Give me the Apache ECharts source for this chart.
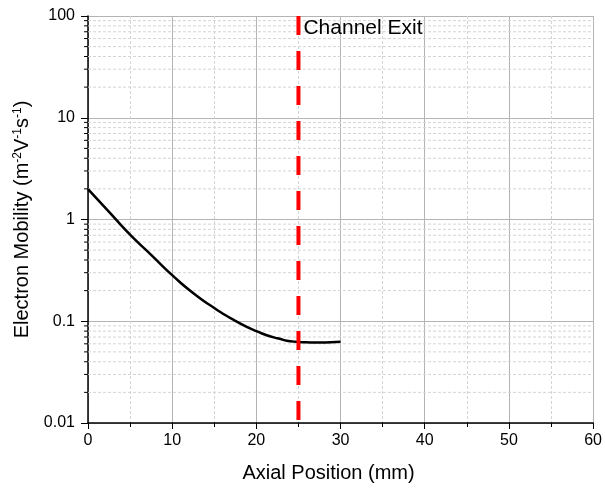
<!DOCTYPE html>
<html>
<head>
<meta charset="utf-8">
<script src="https://cdn.jsdelivr.net/npm/echarts@6/dist/echarts.min.js"></script>
<style>
  html, body { margin: 0; padding: 0; background: #fff; }
  #chart { width: 605px; height: 489px; }
</style>
</head>
<body>
<div id="chart"></div>
<script>
// axial position (mm) and electron mobility (m^2 V^-1 s^-1)
const axialPos = [0, 2.5, 5, 7.5, 10, 12.5, 15, 17.5, 20, 22.5, 25, 27.5, 30];
const mobility = [1.99, 1.19, 0.71, 0.45, 0.284, 0.189, 0.135, 0.101, 0.08, 0.068, 0.0627, 0.0619, 0.063];

// channel exit marker
const exitPos = 25;
const exitLabel = "Channel Exit";

// log axis ticks
const yTickLabels = ["0.01", "0.1", "1", "10", "100"];
const yMinorMult = [2, 3, 4, 5, 6, 7, 8, 9];
const yDecades = [0.01, 0.1, 1, 10];
const yMinorTicks = yDecades.flatMap((d) => yMinorMult.map((m) => +(d * m).toPrecision(3)));

const FONT = "'Liberation Sans', Arial, sans-serif";

const chart = echarts.init(document.getElementById("chart"));

chart.setOption({
  animation: false,
  grid: { left: 88, right: 11, top: 16, bottom: 66 },
  xAxis: {
    type: "value",
    min: 0,
    max: 60,
    interval: 10,
    name: "Axial Position (mm)",
    nameLocation: "middle",
    nameGap: 40,
    nameTextStyle: { fontFamily: FONT, fontSize: 20, color: "#000", padding: [0, 24, 0, 0] },
    axisLine: { onZero: false, lineStyle: { color: "#000", width: 1.5 } },
    axisTick: { length: 6, lineStyle: { color: "#000" } },
    minorTick: { show: true, splitNumber: 2, length: 4, lineStyle: { color: "#000" } },
    axisLabel: { fontFamily: FONT, fontSize: 16, color: "#000", margin: 10 },
    splitLine: { show: true, lineStyle: { color: "#b4b4b4", width: 1 } },
    minorSplitLine: { show: true, lineStyle: { color: "#d4d4d4", type: [3, 2] } },
  },
  yAxis: {
    type: "log",
    logBase: 10,
    min: 0.01,
    max: 100,
    name: "{a|Electron Mobility (m}{s|-2}{a|V}{s|-1}{a|s}{s|-1}{a|)}",
    nameLocation: "middle",
    nameGap: 54,
    nameRotate: 90,
    nameTextStyle: {
      fontFamily: FONT,
      color: "#000",
      rich: {
        a: { fontFamily: FONT, fontSize: 20, color: "#000", lineHeight: 22 },
        s: { fontFamily: FONT, fontSize: 12, color: "#000", verticalAlign: "top", lineHeight: 22, padding: [0, 0, 8, 0] },
      },
    },
    axisLine: { lineStyle: { color: "#000", width: 1.5 } },
    axisTick: { length: 7, lineStyle: { color: "#000" } },
    axisLabel: {
      fontFamily: FONT,
      fontSize: 16,
      color: "#000",
      margin: 13,
      formatter: (value, index) => yTickLabels[index],
    },
    splitLine: { show: true, lineStyle: { color: "#b4b4b4", width: 1 } },
  },
  series: [
    // minor log ticks + minor grid lines
    {
      type: "custom",
      silent: true,
      z: 1,
      clip: false,
      data: yMinorTicks.map((v) => [0, v]),
      renderItem: (params, api) => {
        const cs = params.coordSys;
        const y = api.coord([0, api.value(1)])[1];
        return {
          type: "group",
          children: [
            {
              type: "line",
              shape: { x1: cs.x, y1: y, x2: cs.x + cs.width, y2: y },
              style: { stroke: "#d4d4d4", lineWidth: 1, lineDash: [3, 2] },
            },
            {
              type: "line",
              shape: { x1: cs.x - 4, y1: y, x2: cs.x, y2: y },
              style: { stroke: "#000", lineWidth: 1 },
            },
          ],
        };
      },
    },
    {
      type: "line",
      name: "mobility",
      z: 3,
      smooth: 0.6,
      showSymbol: false,
      lineStyle: { color: "#000", width: 2.5 },
      data: axialPos.map((x, i) => [x, mobility[i]]),
    },
    {
      type: "line",
      name: "exit",
      z: 4,
      symbolSize: 0,
      showSymbol: true,
      lineStyle: { color: "#ff0000", width: 4, type: [19, 16] },
      data: [
        {
          value: [exitPos, 100],
          label: {
            show: true,
            position: "right",
            offset: [0, 12],
            formatter: exitLabel,
            fontFamily: FONT,
            fontSize: 21,
            color: "#000",
          },
        },
        [exitPos, 0.01],
      ],
    },
  ],
});
</script>
</body>
</html>
